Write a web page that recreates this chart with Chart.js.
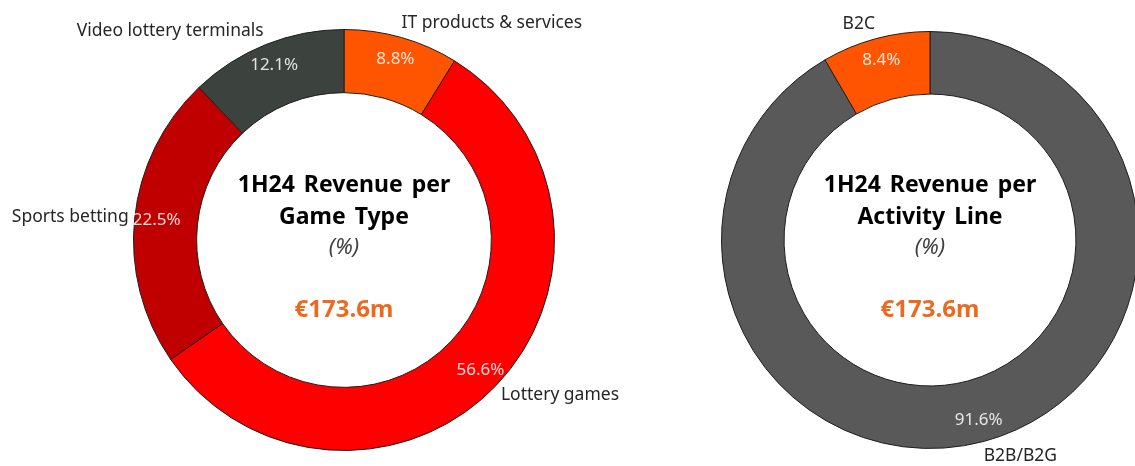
<!DOCTYPE html>
<html>
<head>
<meta charset="utf-8">
<script src="https://cdn.jsdelivr.net/npm/chart.js@4"></script>
<style>
  html, body { margin: 0; padding: 0; background: #fff; overflow: hidden; }
  body { width: 1135px; height: 466px; position: relative; }
  #left { position: absolute; left: 0; top: 0; width: 690px; height: 466px; }
  #right { position: absolute; left: 690px; top: 0; width: 480px; height: 466px; }
</style>
</head>
<body>
<div id="left"><canvas id="gameChart"></canvas></div>
<div id="right"><canvas id="activityChart"></canvas></div>
<script>
// Revenue split per game type (clockwise from 12 o'clock)
const gameLabels = ['IT products & services', 'Lottery games', 'Sports betting', 'Video lottery terminals'];
const gameShares = [8.8, 56.6, 22.5, 12.1];
const gameColors = ['#FF5500', '#FF0000', '#C00000', '#3C423E'];
const gameTitle = ['1H24 Revenue per', 'Game Type'];

// Revenue split per activity line
const activityLabels = ['B2B/B2G', 'B2C'];
const activityShares = [91.6, 8.4];
const activityColors = ['#595959', '#FF5500'];
const activityTitle = ['1H24 Revenue per', 'Activity Line'];

const totalRevenue = '€173.6m';
const FONT = '"Noto Sans", "Open Sans", sans-serif';

// Draws the % inside each slice and the category name just outside it
const ringLabels = {
  id: 'ringLabels',
  afterDatasetsDraw(chart) {
    const ctx = chart.ctx;
    const meta = chart.getDatasetMeta(0);
    const values = chart.data.datasets[0].data;
    meta.data.forEach((arc, i) => {
      const p = arc.getProps(['x', 'y', 'startAngle', 'endAngle', 'innerRadius', 'outerRadius'], true);
      const mid = (p.startAngle + p.endAngle) / 2;
      const dx = Math.cos(mid);
      const dy = Math.sin(mid);

      ctx.save();
      const r = p.innerRadius + 0.65 * (p.outerRadius - p.innerRadius);
      ctx.font = '17px ' + FONT;
      ctx.fillStyle = 'rgba(255,255,255,0.85)';
      ctx.textAlign = 'center';
      ctx.textBaseline = 'middle';
      ctx.fillText(values[i].toFixed(1) + '%', p.x + dx * r, p.y + dy * r);

      const name = chart.data.labels[i];
      ctx.font = '17.5px ' + FONT;
      ctx.fillStyle = '#262626';
      const w = ctx.measureText(name).width;
      const f = Math.min(1, Math.max(0, 0.5 - 1.8 * dx));
      const ax = p.x + dx * (p.outerRadius + 6);
      const ay = p.y + dy * (p.outerRadius + 2);
      ctx.textAlign = 'left';
      ctx.fillText(name, ax - f * w, ay + dy * 13);
      ctx.restore();
    });
  }
};

// Title, unit and total in the hole of the doughnut
const centerText = {
  id: 'centerText',
  afterDraw(chart, args, opts) {
    const arc = chart.getDatasetMeta(0).data[0];
    if (!arc) return;
    const ctx = chart.ctx;
    const cx = arc.x, cy = arc.y;
    ctx.save();
    ctx.textAlign = 'center';
    ctx.textBaseline = 'middle';
    ctx.wordSpacing = '3px';
    ctx.fillStyle = '#000';
    ctx.font = 'bold 23px ' + FONT;
    ctx.fillText(opts.lines[0], cx, cy - 55);
    ctx.fillText(opts.lines[1], cx, cy - 23);
    ctx.wordSpacing = '0px';
    ctx.fillStyle = '#404040';
    ctx.font = 'italic 22px ' + FONT;
    ctx.fillText('(%)', cx, cy + 8);
    ctx.fillStyle = '#EB6A1F';
    ctx.font = 'bold 24px ' + FONT;
    ctx.fillText(totalRevenue, cx, cy + 70);
    ctx.restore();
  }
};

function makeDoughnut(id, labels, values, colors, title, padding) {
  return new Chart(document.getElementById(id), {
    type: 'doughnut',
    data: {
      labels: labels,
      datasets: [{
        data: values,
        backgroundColor: colors,
        borderColor: '#1e1e1e',
        borderWidth: 1
      }]
    },
    options: {
      responsive: true,
      maintainAspectRatio: false,
      animation: false,
      cutout: '70%',
      layout: { padding: padding },
      plugins: {
        legend: { display: false },
        tooltip: { enabled: false },
        centerText: { lines: title }
      }
    },
    plugins: [ringLabels, centerText]
  });
}

makeDoughnut('gameChart', gameLabels, gameShares, gameColors, gameTitle,
  { left: 133, right: 135, top: 29, bottom: 15 });
makeDoughnut('activityChart', activityLabels, activityShares, activityColors, activityTitle,
  { left: 31, right: 31, top: 31, bottom: 17 });
</script>
</body>
</html>
